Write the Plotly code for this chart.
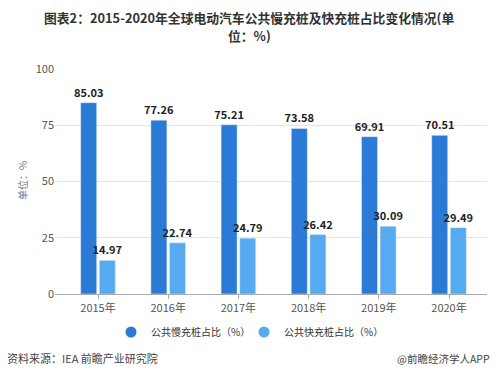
import plotly.graph_objects as go

years = ["2015年", "2016年", "2017年", "2018年", "2019年", "2020年"]
slow_share = [85.03, 77.26, 75.21, 73.58, 69.91, 70.51]
fast_share = [14.97, 22.74, 24.79, 26.42, 30.09, 29.49]
series_names = ["公共慢充桩占比（%）", "公共快充桩占比（%）"]
colors = ["#2b7bd6", "#56aaf0"]
y_ticks = [0, 25, 50, 75, 100]

FONT = "Noto Sans CJK SC"
OFF = 8  # page body margin offset
W, H = 499 - OFF, 380 - OFF
# plot area in window pixel coordinates
X0, X1, Y0, Y1 = 55, 487, 69, 294
L, R, T, B = X0 - OFF, 499 - X1, Y0 - OFF, 380 - Y1
PW, PH = X1 - X0, Y1 - Y0


def px_x(x):
    return (x - X0) / PW


def px_y(y):
    return (Y1 - y) / PH


first_c, step = 98, 70.2
x_range = [(X0 - first_c) / step, (X1 - first_c) / step]

fig = go.Figure()
for vals, name, col in zip([slow_share, fast_share], series_names, colors):
    fig.add_trace(go.Bar(
        x=years, y=vals, name=name, marker_color=col, showlegend=False,
        text=[f"{v:.2f}" for v in vals], textposition="outside",
        textfont=dict(family=FONT, size=11, color="#222"),
        texttemplate="<b>%{text}</b>", cliponaxis=False, constraintext="none",
    ))
for name, col in zip(series_names, colors):
    fig.add_trace(go.Scatter(
        x=[None], y=[None], mode="markers", name=name,
        marker=dict(symbol="circle", size=11, color=col),
    ))

fig.update_layout(
    width=W, height=H,
    margin=dict(l=L, r=R, t=T, b=B, autoexpand=False),
    paper_bgcolor="white", plot_bgcolor="white",
    font=dict(family=FONT, color="#555", size=11),
    barmode="group", bargap=0.47, bargroupgap=0.14,
    legend=dict(orientation="h", x=px_x(111), xanchor="left", y=px_y(332), yanchor="middle",
                font=dict(family=FONT, size=10, color="#333"),
                entrywidth=88, entrywidthmode="pixels"),
    xaxis=dict(range=x_range, showline=True, linecolor="#aaa", ticks="outside",
               tickcolor="#aaa", ticklen=4, tickfont=dict(size=11, color="#555"),
               showgrid=False, automargin=False),
    yaxis=dict(range=[0, 100], tickvals=y_ticks, showgrid=True, gridcolor="#e3e3e3",
               zeroline=False, tickfont=dict(size=11, color="#555"), automargin=False),
)
fig.add_annotation(text="<b>图表2：2015-2020年全球电动汽车公共慢充桩及快充桩占比变化情况(单</b>",
                   xref="paper", yref="paper", x=px_x(249), y=px_y(17),
                   xanchor="center", yanchor="middle", showarrow=False,
                   font=dict(family=FONT, size=12.8, color="#333"))
fig.add_annotation(text="<b>位：%)</b>",
                   xref="paper", yref="paper", x=px_x(249), y=px_y(36),
                   xanchor="center", yanchor="middle", showarrow=False,
                   font=dict(family=FONT, size=12.8, color="#333"))
fig.add_annotation(text="单位：%", xref="paper", yref="paper", x=px_x(22), y=px_y(181),
                   xanchor="center", yanchor="middle", showarrow=False, textangle=-90,
                   font=dict(family=FONT, size=10, color="#777"))
fig.add_annotation(text="资料来源：IEA 前瞻产业研究院", xref="paper", yref="paper",
                   x=px_x(5), y=px_y(358), xanchor="left", yanchor="middle", showarrow=False,
                   font=dict(family=FONT, size=11, color="#444"))
fig.add_annotation(text="@前瞻经济学人APP", xref="paper", yref="paper",
                   x=px_x(492), y=px_y(358), xanchor="right", yanchor="middle", showarrow=False,
                   font=dict(family=FONT, size=10.5, color="#444"))
fig.write_html("out.html")
